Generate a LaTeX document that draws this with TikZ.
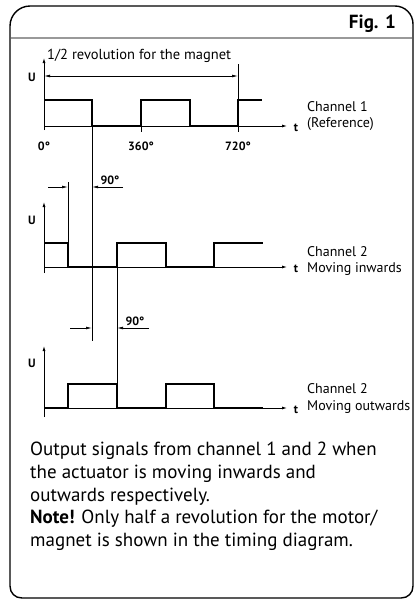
\documentclass[tikz,border=0pt]{standalone}
\usepackage{fontspec}
\setmainfont{PT Sans}
\usetikzlibrary{arrows.meta}
\begin{document}
\begin{tikzpicture}[x=1pt,y=-1pt,
  frame/.style={line width=1.4pt},
  rule/.style={line width=2pt, draw=black!40},
  axis/.style={line width=0.8pt, -{Latex[length=5pt,width=3pt]}},
  sig/.style={line width=1.9pt, line join=miter},
  thinline/.style={line width=0.8pt},
  dimarrow/.style={line width=0.7pt, -{Latex[length=6pt,width=2.8pt]}},
  dimboth/.style={line width=0.7pt, {Latex[length=6pt,width=2.8pt]}-{Latex[length=6pt,width=2.8pt]}},
  lbl/.style={font=\fontsize{14}{16}\selectfont, anchor=base west, inner sep=0},
  blbl/.style={font=\bfseries\fontsize{12}{14}\selectfont, inner sep=0, anchor=base},
  body/.style={font=\fontsize{19}{22}\selectfont, anchor=base west, inner sep=0}]
\useasboundingbox (0,0) rectangle (416,603);

% frame
\draw[frame] (10,26) .. controls (10,15) and (19,6) .. (30,6) -- (395,6)
  .. controls (405,6) and (413,14) .. (413,24) -- (413,586)
  .. controls (413,593) and (408,598) .. (401,598) -- (22,598)
  .. controls (15,598) and (10,593) .. (10,586) -- cycle;
\draw[rule] (11,38) -- (412,38);
\node[font=\bfseries\fontsize{19}{22}\selectfont, anchor=base east, inner sep=0] (fig) at (396,28) {Fig. 1};

% ---------- Channel 1 ----------
\coordinate (a1o) at (44,130);
\coordinate (a1u) at (44,58);
\coordinate (a1s) at (44,126);
\coordinate (a1t) at (287,126);
\draw[axis] (a1o) -- (a1u);
\draw[axis] (a1s) -- (a1t);
\draw[sig] (44,100) -- (92,100) -- (92,126) -- (141,126) -- (141,100) -- (190,100)
  -- (190,126) -- (238,126) -- (238,100) -- (262,100);
\draw[thinline] (141,126) -- (141,132);
\draw[thinline] (238,126) -- (238,132);
\coordinate (v1top) at (238,64);
\coordinate (v1bot) at (238,126);
\draw[thinline] (v1top) -- (v1bot);
\coordinate (d1a) at (44,76);
\coordinate (d1b) at (238,76);
\draw[dimboth] (d1a) -- (d1b);
\node[lbl, font=\fontsize{14.5}{17}\selectfont] (rev) at (47,59) {1/2 revolution for the magnet};
\node[blbl] (u1) at (32,81) {U};
\node[blbl] (t1) at (296,131) {t};
\node[blbl] (deg0) at (44,150) {0°};
\node[blbl] (deg360) at (141,150) {360°};
\node[blbl] (deg720) at (238,150) {720°};
\node[lbl] (ch1) at (307,111) {Channel 1};
\node[lbl] (ch1b) at (307,127) {(Reference)};

% long vertical from channel 1 edge
\coordinate (v92a) at (92,126);
\coordinate (v92b) at (92,341);
\draw[thinline] (v92a) -- (v92b);

% ---------- Channel 2 inwards ----------
\coordinate (a2o) at (44,273);
\coordinate (a2u) at (44,202);
\coordinate (a2s) at (44,267);
\coordinate (a2t) at (287,267);
\draw[axis] (a2o) -- (a2u);
\draw[axis] (a2s) -- (a2t);
\draw[sig] (44,243) -- (68,243) -- (68,267) -- (117,267) -- (117,243) -- (166,243)
  -- (166,267) -- (214,267) -- (214,243) -- (263,243);
\coordinate (v68a) at (68,182);
\coordinate (v68b) at (68,243);
\draw[thinline] (v68a) -- (v68b);
\coordinate (p2a) at (48,187);
\coordinate (p2b) at (68,187);
\coordinate (p2c) at (123,187);
\coordinate (p2d) at (92,187);
\draw[dimarrow] (p2a) -- (p2b);
\draw[dimarrow] (p2c) -- (p2d);
\node[blbl] (ninety1) at (110,184) {90°};
\node[blbl] (u2) at (32,224) {U};
\node[blbl] (t2) at (296,272) {t};
\node[lbl] (ch2) at (307,256) {Channel 2};
\node[lbl] (ch2b) at (307,272) {Moving inwards};
\coordinate (v117a) at (117,267);
\coordinate (v117b) at (117,384);
\draw[thinline] (v117a) -- (v117b);

% ---------- Channel 2 outwards ----------
\coordinate (a3o) at (44,417);
\coordinate (a3u) at (44,346);
\coordinate (a3s) at (44,408);
\coordinate (a3t) at (287,408);
\draw[axis] (a3o) -- (a3u);
\draw[axis] (a3s) -- (a3t);
\draw[sig] (44,408) -- (68,408) -- (68,384) -- (117,384) -- (117,408) -- (166,408)
  -- (166,384) -- (214,384) -- (214,408) -- (263,408);
\coordinate (p3a) at (70,328);
\coordinate (p3b) at (92,328);
\coordinate (p3c) at (149,328);
\coordinate (p3d) at (117,328);
\draw[dimarrow] (p3a) -- (p3b);
\draw[dimarrow] (p3c) -- (p3d);
\node[blbl] (ninety2) at (135,325) {90°};
\node[blbl] (u3) at (32,367) {U};
\node[blbl] (t3) at (296,413) {t};
\node[lbl] (ch3) at (307,393) {Channel 2};
\node[lbl] (ch3b) at (307,410) {Moving outwards};

% ---------- text ----------
\node[body] (l1) at (30,455) {Output signals from channel 1 and 2 when};
\node[body] (l2) at (30,478) {the actuator is moving inwards and};
\node[body] (l3) at (30,501) {outwards respectively.};
\node[body] (l4) at (30,523) {\textbf{Note!} Only half a revolution for the motor/};
\node[body] (l5) at (30,546) {magnet is shown in the timing diagram.};
\end{tikzpicture}
\end{document}
